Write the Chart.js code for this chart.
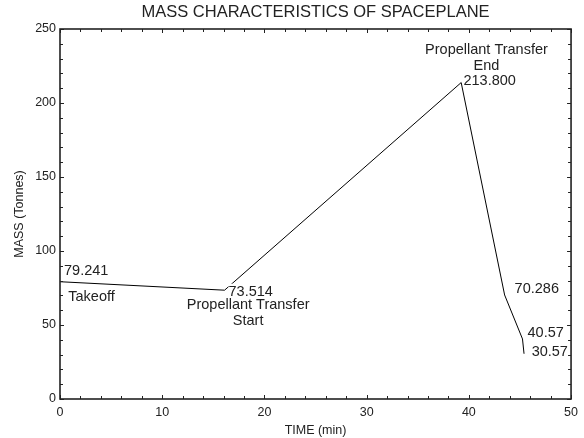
<!DOCTYPE html>
<html>
<head>
<meta charset="utf-8">
<script src="https://cdn.jsdelivr.net/npm/chart.js@4/dist/chart.umd.min.js"></script>
<style>
  html, body { margin: 0; padding: 0; background: #fff; }
  #wrap { width: 584px; height: 438px; }
</style>
</head>
<body>
<div id="wrap"><canvas id="c" width="584" height="438"></canvas></div>
<script>
// ---- data ----
const times = [0, 16.1, 39.25, 43.5, 45.25, 45.4];          // TIME (min)
const masses = [79.241, 73.514, 213.8, 70.286, 40.57, 30.57]; // MASS (Tonnes)
const valueLabels = ['79.241', '73.514', '213.800', '70.286', '40.57', '30.57'];
const eventLabels = [['Takeoff'], ['Propellant Transfer', 'Start'], ['Propellant Transfer', 'End'], [], [], []];
const xTickValues = [0, 10, 20, 30, 40, 50];
const yTickValues = [0, 50, 100, 150, 200, 250];
const xMinorStep = 2;
const yMinorStep = 10;

// ---- label placement (style, in pixels relative to the point) ----
const valueOffsets = [[4, -10.7], [4, 1.5], [2.3, -1.6], [10, -6.3], [5, -6.2], [7.6, -1.8]];
const eventPlacement = [
  { dx: 8.3, dy: 15.3, align: 'left' },
  { dx: 23.6, dy: 15.3, align: 'center' },
  { dx: 25.3, dy: -32.6, align: 'center' },
  null, null, null
];

const FONT = '"Liberation Sans", Arial, Helvetica, sans-serif';
const TEXT = '#222';

const points = times.map((t, i) => ({ x: t, y: masses[i] }));

const annotate = {
  id: 'annotate',
  afterDraw(chart) {
    const { ctx, scales: { x, y }, chartArea: a } = chart;
    ctx.save();
    ctx.font = '14.5px ' + FONT;
    ctx.textBaseline = 'middle';
    const drawText = (txt, tx, ty, align) => {
      const w = ctx.measureText(txt).width;
      let left = align === 'center' ? tx - w / 2 : tx;
      ctx.fillStyle = '#fff';
      ctx.fillRect(left, ty - 8, w, 16);
      ctx.fillStyle = TEXT;
      ctx.textAlign = 'left';
      ctx.fillText(txt, left, ty);
    };
    times.forEach((t, i) => {
      const px = x.getPixelForValue(t);
      const py = y.getPixelForValue(masses[i]);
      const [vx, vy] = valueOffsets[i];
      drawText(valueLabels[i], px + vx, py + vy, 'left');
      const ev = eventLabels[i];
      const pl = eventPlacement[i];
      if (ev && ev.length && pl) {
        ev.forEach((line, k) => drawText(line, px + pl.dx, py + pl.dy + k * 15.8, pl.align));
      }
    });
    ctx.restore();

    // frame and inward ticks
    ctx.save();
    ctx.strokeStyle = '#222';
    ctx.lineWidth = 1;
    const major = 4, minor = 3;
    ctx.beginPath();
    for (let v = x.min; v <= x.max + 1e-9; v += xMinorStep) {
      const px = Math.round(x.getPixelForValue(v)) + 0.5;
      const len = xTickValues.includes(Math.round(v)) ? major : minor;
      ctx.moveTo(px, a.bottom); ctx.lineTo(px, a.bottom - len);
      ctx.moveTo(px, a.top); ctx.lineTo(px, a.top + len);
    }
    for (let v = y.min; v <= y.max + 1e-9; v += yMinorStep) {
      const py = Math.round(y.getPixelForValue(v)) + 0.5;
      const len = yTickValues.includes(Math.round(v)) ? major : minor;
      ctx.moveTo(a.left, py); ctx.lineTo(a.left + len, py);
      ctx.moveTo(a.right, py); ctx.lineTo(a.right - len, py);
    }
    ctx.stroke();
    ctx.lineWidth = 1.6;
    ctx.strokeRect(a.left, a.top, a.right - a.left, a.bottom - a.top);
    ctx.restore();
  }
};

new Chart(document.getElementById('c'), {
  type: 'scatter',
  data: {
    datasets: [{
      data: points,
      showLine: true,
      borderColor: '#000',
      borderWidth: 1,
      pointRadius: 0,
      pointHoverRadius: 0,
      tension: 0
    }]
  },
  options: {
    responsive: false,
    animation: false,
    events: [],
    layout: { padding: { left: 0, right: 11.3, top: 0, bottom: 0 } },
    plugins: {
      legend: { display: false },
      tooltip: { enabled: false },
      title: {
        display: true,
        text: 'MASS CHARACTERISTICS OF SPACEPLANE',
        fullSize: false,
        color: TEXT,
        font: { family: FONT, size: 16.5, weight: 'normal' },
        padding: { top: 2.6, bottom: 6.6 }
      }
    },
    scales: {
      x: {
        type: 'linear',
        min: 0, max: 50,
        afterBuildTicks: s => { s.ticks = xTickValues.map(v => ({ value: v })); },
        ticks: { color: TEXT, font: { family: FONT, size: 12.5 }, padding: 6, maxRotation: 0 },
        grid: { display: false, drawTicks: false },
        border: { display: false },
        title: { display: true, text: 'TIME (min)', color: TEXT, font: { family: FONT, size: 12.5 }, padding: { top: 0, bottom: 0 } },
        afterFit: s => { s.height = 39; }
      },
      y: {
        type: 'linear',
        min: 0, max: 250,
        afterBuildTicks: s => { s.ticks = yTickValues.map(v => ({ value: v })); },
        ticks: { color: TEXT, font: { family: FONT, size: 12.5 }, padding: 4 },
        grid: { display: false, drawTicks: false },
        border: { display: false },
        title: { display: true, text: 'MASS (Tonnes)', color: TEXT, font: { family: FONT, size: 12.5 }, padding: { top: 12.5, bottom: 0 } },
        afterFit: s => { s.width = 60; }
      }
    }
  },
  plugins: [annotate]
});
</script>
</body>
</html>
